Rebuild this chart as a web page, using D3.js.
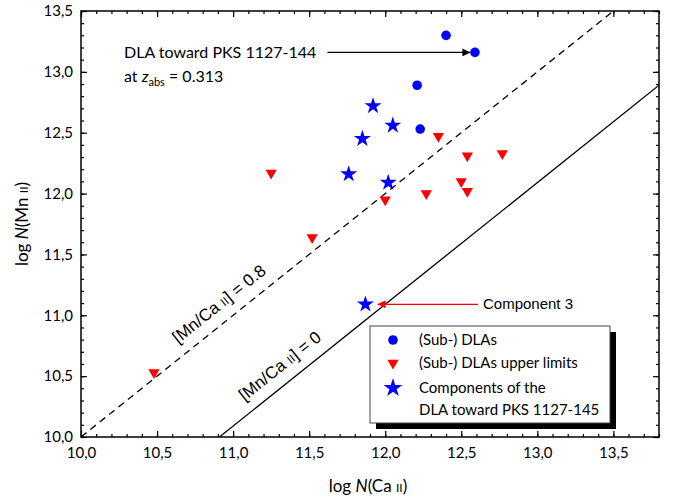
<!DOCTYPE html>
<html>
<head>
<meta charset="utf-8">
<script src="https://d3js.org/d3.v7.min.js"></script>
<style>
body { margin: 0; background: #fff; }
text { font-family: Lato, "Open Sans", sans-serif; fill: #000; }
.arial { font-family: "Liberation Sans", Arial, sans-serif; }
</style>
</head>
<body>
<svg width="676" height="499"></svg>
<script>
// (Sub-) DLAs
const dlaCa = [12.40, 12.59, 12.21, 12.23];
const dlaMn = [13.30, 13.16, 12.89, 12.53];
// (Sub-) DLAs upper limits
const limCa = [10.48, 11.25, 11.52, 12.00, 12.27, 12.35, 12.50, 12.54, 12.54, 12.77];
const limMn = [10.53, 12.17, 11.64, 11.95, 12.00, 12.47, 12.10, 12.02, 12.31, 12.33];
// components of the DLA toward PKS 1127-145
const compCa = [11.92, 12.05, 11.85, 11.76, 12.02, 11.87];
const compMn = [12.72, 12.56, 12.45, 12.16, 12.09, 11.09];

const majorTicksX = [10.0, 10.5, 11.0, 11.5, 12.0, 12.5, 13.0, 13.5];
const majorTicksY = [10.0, 10.5, 11.0, 11.5, 12.0, 12.5, 13.0, 13.5];

// ratio lines: log N(Mn) = log N(Ca) + offset
const lineOffsets = [0, -0.91];
const lineLabels = ["0.8", "0"];

const legendLabels = ["(Sub-) DLAs", "(Sub-) DLAs upper limits", "Components of the"];

const svg = d3.select("svg");
const mLeft = 81, mRight = 659, mTop = 11, mBottom = 437;

const x = d3.scaleLinear().domain([10, 13.8]).range([mLeft, mRight]);
const y = d3.scaleLinear().domain([10, 13.5]).range([mBottom, mTop]);
const fmt = d => d3.format(".1f")(d).replace(".", ",");

svg.append("clipPath").attr("id", "clip")
    .append("rect").attr("x", mLeft).attr("y", mTop)
    .attr("width", mRight - mLeft).attr("height", mBottom - mTop);

// ratio lines
const lineGen = d3.line().x(d => x(d[0])).y(d => y(d[1]));
svg.append("g").attr("clip-path", "url(#clip)")
    .selectAll("path")
    .data(lineOffsets)
    .enter().append("path")
    .attr("d", o => lineGen([[10, 10 + o], [13.8, 13.8 + o]]))
    .attr("fill", "none")
    .attr("stroke", "#000")
    .attr("stroke-width", 1.3)
    .attr("stroke-dasharray", (o, i) => i == 0 ? "7,5" : null);

// rotated line labels
const angle = -Math.atan((y(10) - y(11)) / (x(11) - x(10))) * 180 / Math.PI;
const labelAt = [10.98, 11.38];
lineOffsets.forEach((o, i) => {
    const t = svg.append("text").attr("class", "arial")
        .attr("transform", `translate(${x(labelAt[i])},${y(labelAt[i] + o)}) rotate(${angle})`)
        .attr("y", -12)
        .attr("text-anchor", "middle")
        .style("font-size", "17px");
    t.append("tspan").text("[Mn/Ca ");
    t.append("tspan").style("font-size", "12px").text("II");
    t.append("tspan").text("] = " + lineLabels[i]);
});

// axes
function styleAxis(g) {
    g.select(".domain").remove();
    g.selectAll(".tick line").attr("stroke-width", 1.2);
    g.selectAll("text").style("font-size", "15px").style("font-family", "Lato, sans-serif");
}
const minorX = x.ticks(38), minorY = y.ticks(35);

svg.append("g").attr("transform", `translate(0,${mBottom})`)
    .call(d3.axisBottom(x).tickValues(majorTicksX).tickSizeInner(-6).tickSizeOuter(0).tickPadding(10).tickFormat(fmt))
    .call(styleAxis);
svg.append("g").attr("transform", `translate(0,${mBottom})`)
    .call(d3.axisBottom(x).tickValues(minorX).tickSize(-3).tickFormat(""))
    .call(styleAxis);
svg.append("g").attr("transform", `translate(0,${mTop})`)
    .call(d3.axisTop(x).tickValues(majorTicksX).tickSize(-6).tickFormat(""))
    .call(styleAxis);
svg.append("g").attr("transform", `translate(0,${mTop})`)
    .call(d3.axisTop(x).tickValues(minorX).tickSize(-3).tickFormat(""))
    .call(styleAxis);
svg.append("g").attr("transform", `translate(${mLeft},0)`)
    .call(d3.axisLeft(y).tickValues(majorTicksY).tickSizeInner(-6).tickSizeOuter(0).tickPadding(8).tickFormat(fmt))
    .call(styleAxis);
svg.append("g").attr("transform", `translate(${mLeft},0)`)
    .call(d3.axisLeft(y).tickValues(minorY).tickSize(-3).tickFormat(""))
    .call(styleAxis);
svg.append("g").attr("transform", `translate(${mRight},0)`)
    .call(d3.axisRight(y).tickValues(majorTicksY).tickSize(-6).tickFormat(""))
    .call(styleAxis);
svg.append("g").attr("transform", `translate(${mRight},0)`)
    .call(d3.axisRight(y).tickValues(minorY).tickSize(-3).tickFormat(""))
    .call(styleAxis);

svg.append("rect")
    .attr("x", mLeft).attr("y", mTop)
    .attr("width", mRight - mLeft).attr("height", mBottom - mTop)
    .attr("fill", "none").attr("stroke", "#000").attr("stroke-width", 1.5);

// axis titles
const xt = svg.append("text").attr("x", (mLeft + mRight) / 2 - 2).attr("y", 492)
    .attr("text-anchor", "middle").style("font-size", "17px");
xt.append("tspan").text("log ");
xt.append("tspan").style("font-style", "italic").text("N");
xt.append("tspan").text("(Ca ");
xt.append("tspan").style("font-size", "12px").text("II");
xt.append("tspan").text(")");

const yt = svg.append("text").attr("transform", `translate(28,${(mTop + mBottom) / 2}) rotate(-90)`)
    .attr("text-anchor", "middle").style("font-size", "17px");
yt.append("tspan").text("log ");
yt.append("tspan").style("font-style", "italic").text("N");
yt.append("tspan").text("(Mn ");
yt.append("tspan").style("font-size", "12px").text("II");
yt.append("tspan").text(")");

// markers
const starSym = d3.symbol().type(d3.symbolStar).size(90);
const triSym = d3.symbol().type(d3.symbolTriangle).size(55);

svg.append("g").selectAll("circle")
    .data(d3.zip(dlaCa, dlaMn))
    .enter().append("circle")
    .attr("cx", d => x(d[0])).attr("cy", d => y(d[1]))
    .attr("r", 4.8).attr("fill", "#0000ff");

svg.append("g").selectAll("path")
    .data(d3.zip(limCa, limMn))
    .enter().append("path")
    .attr("d", triSym)
    .attr("transform", d => `translate(${x(d[0])},${y(d[1])}) rotate(180)`)
    .attr("fill", "#ff0000");

svg.append("g").selectAll("path")
    .data(d3.zip(compCa, compMn))
    .enter().append("path")
    .attr("d", starSym)
    .attr("transform", d => `translate(${x(d[0])},${y(d[1])})`)
    .attr("fill", "#0000ff");

// annotations
const defs = svg.append("defs");
[["arrowBlack", "#000"], ["arrowRed", "#ff0000"]].forEach(m => {
    defs.append("marker").attr("id", m[0])
        .attr("viewBox", "0 0 10 10").attr("refX", 10).attr("refY", 5)
        .attr("markerWidth", 12).attr("markerHeight", 8)
        .attr("markerUnits", "userSpaceOnUse")
        .attr("orient", "auto")
        .append("path").attr("d", "M0,0 L10,5 L0,10 Z").attr("fill", m[1]);
});

svg.append("line")
    .attr("x1", x(11.62)).attr("x2", x(12.56))
    .attr("y1", y(13.16)).attr("y2", y(13.16))
    .attr("stroke", "#000").attr("stroke-width", 1.2)
    .attr("marker-end", "url(#arrowBlack)");

svg.append("text").attr("x", 124).attr("y", 58).style("font-size", "16px")
    .text("DLA toward PKS 1127-144");
const zt = svg.append("text").attr("x", 124).attr("y", 82).style("font-size", "16px");
zt.append("tspan").text("at ");
zt.append("tspan").style("font-style", "italic").text("z");
zt.append("tspan").attr("dy", 4).style("font-size", "11px").text("abs");
zt.append("tspan").attr("dy", -4).text(" = 0.313");

svg.append("line")
    .attr("x1", x(12.61)).attr("x2", x(11.95))
    .attr("y1", y(11.09)).attr("y2", y(11.09))
    .attr("stroke", "#ff0000").attr("stroke-width", 1.3)
    .attr("marker-end", "url(#arrowRed)");
svg.append("text").attr("class", "arial")
    .attr("x", x(12.61) + 5).attr("y", y(11.09) + 5)
    .style("font-size", "15px").text("Component 3");

// legend
const lg = svg.append("g").attr("transform", "translate(370,326)");
lg.append("rect").attr("x", 6).attr("y", 6).attr("width", 240).attr("height", 97).attr("fill", "#000");
lg.append("rect").attr("width", 240).attr("height", 97)
    .attr("fill", "#fff").attr("stroke", "#444").attr("stroke-width", 1);
const rowsY = [14, 37, 62];
lg.append("circle").attr("cx", 23).attr("cy", rowsY[0]).attr("r", 4.8).attr("fill", "#0000ff");
lg.append("path").attr("d", triSym).attr("transform", `translate(23,${rowsY[1]}) rotate(180)`).attr("fill", "#ff0000");
lg.append("path").attr("d", d3.symbol().type(d3.symbolStar).size(110)).attr("transform", `translate(23,${rowsY[2]})`).attr("fill", "#0000ff");
lg.selectAll("text.lab")
    .data(legendLabels)
    .enter().append("text").attr("class", "lab")
    .attr("x", 49).attr("y", (d, i) => rowsY[i] + 5)
    .style("font-size", "15px")
    .text(d => d);
lg.append("text").attr("x", 49).attr("y", 89).style("font-size", "15px").text("DLA toward PKS 1127-145");
</script>
</body>
</html>
